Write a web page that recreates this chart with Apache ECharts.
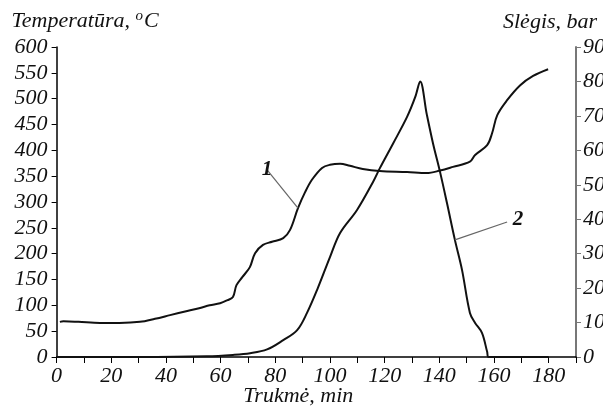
<!DOCTYPE html>
<html><head><meta charset="utf-8">
<script src="https://cdn.jsdelivr.net/npm/echarts@6/dist/echarts.min.js"></script>
<style>html,body{margin:0;padding:0;background:#fff}#c{width:603px;height:407px}</style>
</head><body><div id="c"></div>
<script>
// Curve 1: temperature (°C) vs time (min)
const tempTime = [1.2, 2.5, 8, 15.9, 23, 30.5, 36, 41.5, 47, 52.5, 56, 59.8, 62.5, 64.5, 65.8, 68, 70.7, 72.6, 75.5, 78.8, 82.9, 85.4, 88.3, 90.9, 93.4, 97.1, 100, 103.7, 107.3, 112, 118.2, 128.2, 135.4, 140.3, 145, 151.2, 153.1, 157.5, 159.3, 161.2, 164.8, 169.6, 174.3, 179.8];
const tempVals = [68, 69, 68, 66, 66, 68, 74, 81, 88, 95, 100, 104, 110, 116, 139, 155, 174, 201, 217, 223, 230, 246, 288, 319, 343, 366, 372, 374, 370, 364, 360, 358, 356, 361, 368, 378, 391, 410, 433, 468, 497, 526, 544, 557];
// Curve 2: pressure (bar) vs time (min)
const presTime = [0, 30, 55, 64.5, 70.8, 77, 82.9, 88, 91.6, 95.3, 100, 103.7, 109.9, 115.8, 118.3, 123.1, 128.2, 131.2, 133, 135.4, 137.7, 140.3, 142.8, 145.7, 148.3, 151.2, 153.1, 155.6, 157.5, 158, 170, 180];
const presVals = [0, 0, 0.2, 0.6, 1.1, 2.2, 4.9, 7.8, 12.8, 19.5, 29, 36, 42.7, 50.9, 54.9, 62, 69.7, 75.5, 80, 70.5, 62, 53.6, 44.7, 34, 25.3, 12.8, 9.9, 7, 1.5, 0, 0, 0];
const xTicks = [0, 20, 40, 60, 80, 100, 120, 140, 160, 180];

const font = 'Liberation Serif';
const lab = {fontFamily: font, fontStyle: 'italic', fontSize: 22, color: '#111'};
const chart = echarts.init(document.getElementById('c'));
chart.setOption({
  animation: false,
  backgroundColor: '#fff',
  grid: {left: 56.6, right: 27, top: 47, bottom: 50, containLabel: false, outerBoundsMode: 'none'},
  xAxis: {
    type: 'value', min: 0, max: 190, interval: 10,
    name: 'Trukmė, min', nameLocation: 'middle', nameGap: 28, nameMoveOverlap: false,
    nameTextStyle: Object.assign({}, lab, {padding: [0, 36, 0, 0]}),
    axisLine: {lineStyle: {color: '#000', width: 1.5}},
    axisTick: {show: true, length: 6, lineStyle: {color: '#000'}},
    splitLine: {show: false},
    axisLabel: Object.assign({}, lab, {margin: 8, formatter: v => xTicks.indexOf(v) >= 0 ? String(v) : ''})
  },
  yAxis: [{
    type: 'value', min: 0, max: 600, interval: 50,
    name: 'Temperatūra, {s|o}C', nameLocation: 'end', nameGap: 14,
    nameTextStyle: Object.assign({}, lab, {align: 'left', padding: [0, 0, 0, -45], rich: {s: {fontFamily: font, fontSize: 15, verticalAlign: 'top', padding: [0, 1, 9, 0], color: '#111'}}}),
    axisLine: {show: true, lineStyle: {color: '#000', width: 1.5}},
    axisTick: {show: true, length: 5, lineStyle: {color: '#000'}},
    splitLine: {show: false},
    axisLabel: Object.assign({}, lab, {margin: 9})
  }, {
    type: 'value', min: 0, max: 90, interval: 10, position: 'right',
    name: 'Slėgis, bar', nameLocation: 'end', nameGap: 14,
    nameTextStyle: Object.assign({}, lab, {align: 'left', padding: [0, 0, 0, -73]}),
    axisLine: {show: true, lineStyle: {color: '#777', width: 2}},
    axisTick: {show: true, length: 5, lineStyle: {color: '#777'}},
    splitLine: {show: false},
    axisLabel: Object.assign({}, lab, {margin: 7})
  }],
  series: [{
    type: 'line', yAxisIndex: 0, symbol: 'none', smooth: 0.35,
    lineStyle: {color: '#111', width: 2},
    data: tempTime.map((t, i) => [t, tempVals[i]]),
    markLine: {
      silent: true, symbol: 'none', animation: false,
      lineStyle: {color: '#666', width: 1.2, type: 'solid'},
      label: {show: true, position: 'end', formatter: '1', fontFamily: font, fontStyle: 'italic', fontWeight: 'bold', fontSize: 21, color: '#111', distance: 0},
      data: [[{coord: [88.3, 288]}, {coord: [77, 362]}]]
    }
  }, {
    type: 'line', yAxisIndex: 1, symbol: 'none', smooth: 0.35,
    lineStyle: {color: '#111', width: 2},
    data: presTime.map((t, i) => [t, presVals[i]]),
    markLine: {
      silent: true, symbol: 'none', animation: false,
      lineStyle: {color: '#666', width: 1.2, type: 'solid'},
      label: {show: true, position: 'end', formatter: '2', fontFamily: font, fontStyle: 'italic', fontWeight: 'bold', fontSize: 21, color: '#111', distance: 6},
      data: [[{coord: [145.7, 34]}, {coord: [164.8, 39.2]}]]
    }
  }]
});
</script></body></html>
